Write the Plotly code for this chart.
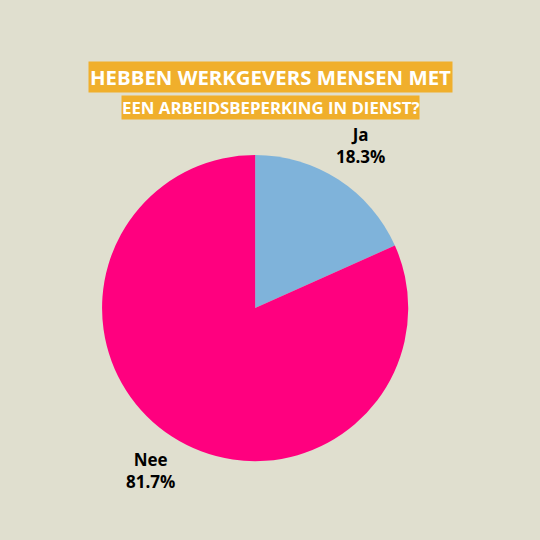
import plotly.graph_objects as go

labels = ["Ja", "Nee"]
values = [18.3, 81.7]
colors = ["#7fb3da", "#ff007f"]

title_lines = ["HEBBEN WERKGEVERS MENSEN MET", "EEN ARBEIDSBEPERKING IN DIENST?"]

BG = "#e0dfcf"
ORANGE = "#f0af2c"
FONT = "Open Sans"

fig = go.Figure()

fig.add_trace(go.Pie(
    labels=labels,
    values=values,
    marker=dict(colors=colors, line=dict(width=0)),
    sort=False,
    direction="clockwise",
    rotation=0,
    textinfo="none",
    hoverinfo="label+percent",
    domain=dict(x=[0.189, 0.756], y=[0.146, 0.713]),
    showlegend=False,
))

# outside labels (placed by hand, like the original)
label_pos = [(0.667, 0.73), (0.278, 0.128)]
annotations = []
for (lx, ly), lab, val in zip(label_pos, labels, values):
    annotations.append(dict(
        x=lx, y=ly, xref="paper", yref="paper",
        xanchor="center", yanchor="middle",
        text=f"<b>{lab}<br>{val:.1f}%</b>",
        showarrow=False,
        font=dict(family=FONT, size=17, color="black"),
        align="center",
    ))

# title boxes
annotations.append(dict(
    x=0.5, y=0.858, xref="paper", yref="paper",
    xanchor="center", yanchor="middle",
    text=f"<b>{title_lines[0]}</b>",
    showarrow=False, bgcolor=ORANGE, borderpad=1,
    font=dict(family=FONT, size=20.4, color="white"),
))
annotations.append(dict(
    x=0.5, y=0.8, xref="paper", yref="paper",
    xanchor="center", yanchor="middle",
    text=f"<b>{title_lines[1]}</b>",
    showarrow=False, bgcolor=ORANGE, borderpad=0,
    font=dict(family=FONT, size=16.8, color="white"),
))

fig.update_layout(
    width=540, height=540,
    margin=dict(l=0, r=0, t=0, b=0),
    paper_bgcolor=BG,
    plot_bgcolor=BG,
    annotations=annotations,
)

fig.write_html("out.html", config={"displayModeBar": False},
               post_script="document.body.style.margin='0';")
